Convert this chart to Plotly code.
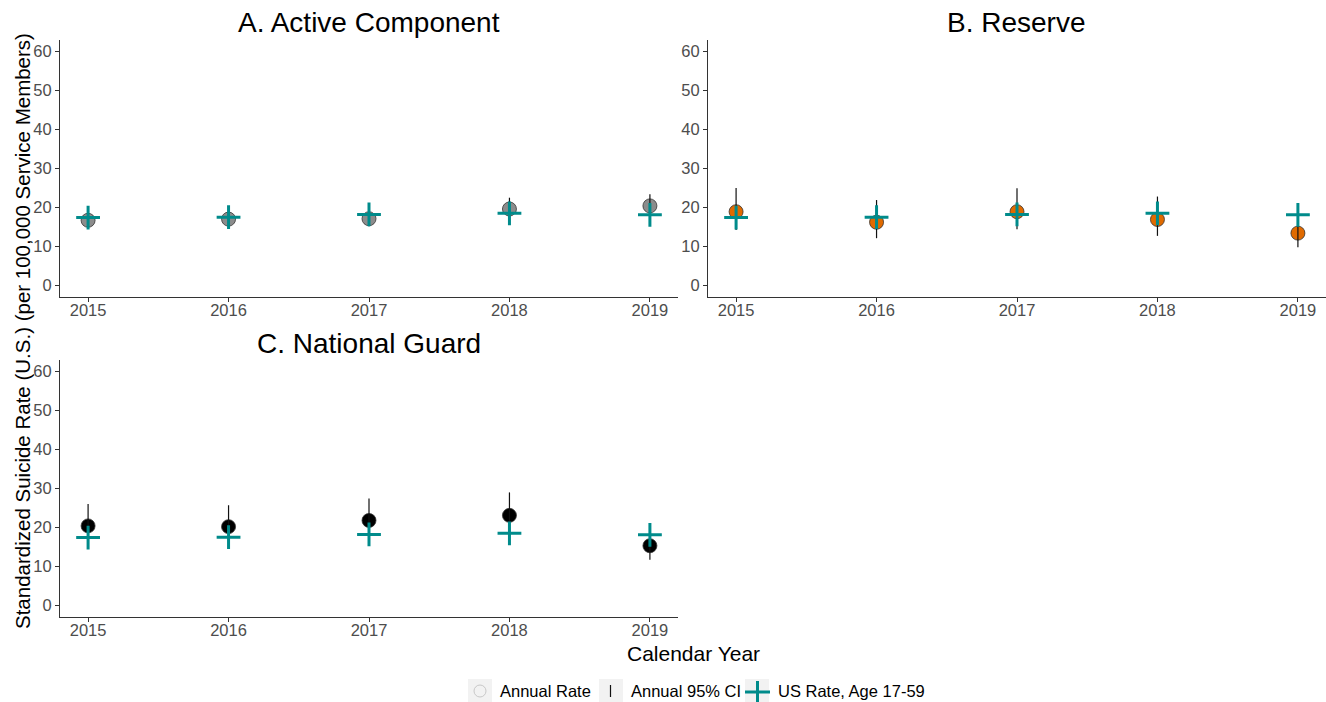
import plotly.graph_objects as go

# Calendar years shown on every panel
years = [2015, 2016, 2017, 2018, 2019]

# US civilian suicide rate, age 17-59 (per 100,000)
us_rate = [17.4, 17.5, 18.2, 18.5, 18.1]

# A. Active Component
active_rate = [16.7, 17.0, 17.1, 19.6, 20.4]
active_lo = [14.8, 15.0, 15.2, 17.2, 17.9]
active_hi = [18.8, 19.2, 19.3, 22.5, 23.4]

# B. Reserve
reserve_rate = [18.9, 16.2, 18.9, 16.9, 13.4]
reserve_lo = [14.2, 12.1, 14.4, 12.7, 9.8]
reserve_hi = [25.0, 21.9, 24.9, 22.8, 17.6]

# C. National Guard
guard_rate = [20.4, 20.2, 21.8, 23.1, 15.3]
guard_lo = [15.6, 15.4, 16.9, 18.1, 11.7]
guard_hi = [26.0, 25.7, 27.4, 29.0, 19.4]

# legend labels
legend_labels = ["Annual Rate", "Annual 95% CI", "US Rate, Age 17-59"]

panels = [
    ("A. Active Component", active_rate, active_lo, active_hi, "#8c8c8c", "x", "y"),
    ("B. Reserve", reserve_rate, reserve_lo, reserve_hi, "#e06a00", "x2", "y2"),
    ("C. National Guard", guard_rate, guard_lo, guard_hi, "#000000", "x3", "y3"),
]

TEAL = "#008b8b"
FONT = "Liberation Sans, Arial, sans-serif"
W, H = 1326, 702

fig = go.Figure()

for title, rate, lo, hi, fill, xa, ya in panels:
    # annual rate points
    fig.add_trace(go.Scatter(
        x=years, y=rate, mode="markers", xaxis=xa, yaxis=ya, showlegend=False,
        marker=dict(symbol="circle", size=14, color=fill,
                    line=dict(color="#333333", width=0.8)),
    ))
    # 95% CI segments
    cx, cy = [], []
    for yr, a, b in zip(years, lo, hi):
        cx += [yr, yr, None]
        cy += [a, b, None]
    fig.add_trace(go.Scatter(
        x=cx, y=cy, mode="lines", xaxis=xa, yaxis=ya, showlegend=False,
        line=dict(color="#111111", width=1.2),
    ))
    # US reference rate
    fig.add_trace(go.Scatter(
        x=years, y=us_rate, mode="markers", xaxis=xa, yaxis=ya, showlegend=False,
        marker=dict(symbol="cross-thin", size=17, color=TEAL,
                    line=dict(color=TEAL, width=3)),
    ))


def px_x(p):
    return p / W


def px_y(p):
    return 1 - p / H


xdomA = [px_x(60), px_x(678)]
xdomB = [px_x(708), px_x(1326)]
ydomTop = [px_y(297), px_y(40)]
ydomBot = [px_y(617), px_y(360)]

axis_common = dict(
    showline=True, linecolor="#333333", linewidth=1.2,
    ticks="outside", ticklen=4, tickcolor="#333333", tickwidth=1,
    showgrid=False, zeroline=False,
    tickfont=dict(family=FONT, size=16.5, color="#4d4d4d"),
)
xcommon = dict(axis_common, range=[2014.8, 2019.2], tickvals=years,
               ticklabelstandoff=-6)
ycommon = dict(axis_common, range=[-3, 63], tickvals=[0, 10, 20, 30, 40, 50, 60])

fig.update_layout(
    width=W, height=H,
    margin=dict(l=0, r=0, t=0, b=0),
    paper_bgcolor="white", plot_bgcolor="white",
    font=dict(family=FONT, color="#000000"),
    xaxis=dict(xcommon, domain=xdomA, anchor="y"),
    yaxis=dict(ycommon, domain=ydomTop, anchor="x"),
    xaxis2=dict(xcommon, domain=xdomB, anchor="y2"),
    yaxis2=dict(ycommon, domain=ydomTop, anchor="x2"),
    xaxis3=dict(xcommon, domain=xdomA, anchor="y3"),
    yaxis3=dict(ycommon, domain=ydomBot, anchor="x3"),
    showlegend=False,
)

annotations = [
    dict(text="A. Active Component", x=sum(xdomA) / 2, y=px_y(22)),
    dict(text="B. Reserve", x=sum(xdomB) / 2, y=px_y(22)),
    dict(text="C. National Guard", x=sum(xdomA) / 2, y=px_y(343)),
]
for a in annotations:
    fig.add_annotation(xref="paper", yref="paper", showarrow=False,
                       xanchor="center", yanchor="middle",
                       font=dict(size=28, color="#000000"), **a)

fig.add_annotation(
    text="Standardized Suicide Rate (U.S.) (per 100,000 Service Members)",
    xref="paper", yref="paper", x=px_x(22), y=px_y(331), textangle=-90,
    showarrow=False, xanchor="center", yanchor="middle",
    font=dict(size=20.5, color="#000000"),
)
fig.add_annotation(
    text="Calendar Year", xref="paper", yref="paper", x=px_x(693), y=px_y(653),
    showarrow=False, xanchor="center", yanchor="middle",
    font=dict(size=21, color="#000000"),
)

# ---- legend drawn at the bottom: grey key boxes, glyphs and labels ----
shapes = []
key_left = [468, 599, 745]
ly = 691
for kx in key_left:
    shapes.append(dict(type="rect", xref="paper", yref="paper",
                       x0=px_x(kx), x1=px_x(kx + 24), y0=px_y(ly + 11), y1=px_y(ly - 12),
                       fillcolor="#f2f2f2", line=dict(width=0), layer="below"))
# hollow circle
shapes.append(dict(type="circle", xref="paper", yref="paper",
                   x0=px_x(474), x1=px_x(486), y0=px_y(ly + 6), y1=px_y(ly - 6),
                   line=dict(color="#c8c8c8", width=1)))
# CI stroke
shapes.append(dict(type="line", xref="paper", yref="paper",
                   x0=px_x(610.5), x1=px_x(610.5), y0=px_y(ly + 6), y1=px_y(ly - 6),
                   line=dict(color="#111111", width=1.2)))
# teal cross
shapes.append(dict(type="line", xref="paper", yref="paper",
                   x0=px_x(745), x1=px_x(770), y0=px_y(ly + 1), y1=px_y(ly + 1),
                   line=dict(color=TEAL, width=3)))
shapes.append(dict(type="line", xref="paper", yref="paper",
                   x0=px_x(757.5), x1=px_x(757.5), y0=px_y(ly + 12), y1=px_y(ly - 10),
                   line=dict(color=TEAL, width=3)))
fig.update_layout(shapes=shapes)

for lbl, tx in zip(legend_labels, [498, 629, 776]):
    fig.add_annotation(text=lbl, xref="paper", yref="paper", x=px_x(tx), y=px_y(ly),
                       showarrow=False, xanchor="left", yanchor="middle",
                       font=dict(size=16.5, color="#000000"))

fig.write_html("out.html")
